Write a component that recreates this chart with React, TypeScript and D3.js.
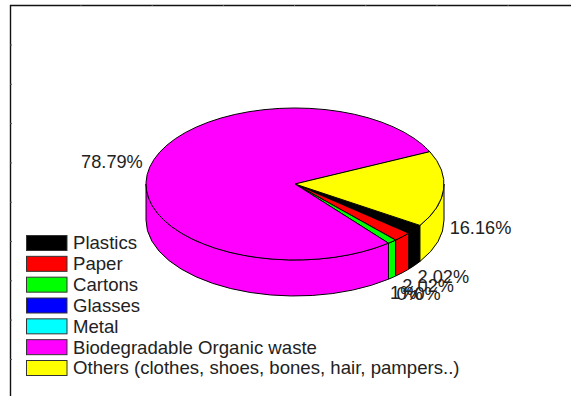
import React from "react";
import * as d3 from "d3";

const categories = [
  "Plastics",
  "Paper",
  "Cartons",
  "Glasses",
  "Metal",
  "Biodegradable Organic waste",
  "Others (clothes, shoes, bones, hair, pampers..)",
];
const shares = [2.02, 2.02, 1, 0, 0, 78.79, 16.16];
const valueLabels = ["2.02%", "2.02%", "1%", "0%", "0%", "78.79%", "16.16%"];
const colors = ["#000000", "#ff0000", "#00ff00", "#0000ff", "#00ffff", "#ff00ff", "#ffff00"];
// Nudges of each value label away from the rim of its slice
const labelNudges: [number, number][] = [
  [3, 49],
  [0, 50],
  [-2, 53],
  [8, 52],
  [26, 52],
  [-7, -4],
  [6, 40],
];

const WIDTH = 571;
const HEIGHT = 396;
const cx = 295;
const cy = 184;
const rx = 149;
const ry = 76;
const depth = 36;
const TEXT = "#222222";
const FONT = "'Liberation Sans', Arial, sans-serif";

const pie = d3
  .pie<number>()
  .sort(null)
  .startAngle((123 * Math.PI) / 180)
  .endAngle((483 * Math.PI) / 180);

// Pie angles run clockwise from 12 o'clock; rimX/rimY project them onto the ellipse.
const rimX = (a: number) => cx + rx * Math.sin(a);
const rimY = (a: number) => cy - ry * Math.cos(a);

function topPath(a0: number, a1: number) {
  const large = a1 - a0 > Math.PI ? 1 : 0;
  return `M${cx},${cy}L${rimX(a0)},${rimY(a0)}A${rx},${ry} 0 ${large} 1 ${rimX(a1)},${rimY(a1)}Z`;
}

// Outer wall of a slice, clipped to the half of the rim facing the viewer.
function wallPath(a0: number, a1: number) {
  const segments: [number, number][] = [];
  for (const shift of [0, 2 * Math.PI]) {
    const s = Math.max(a0, Math.PI / 2 + shift);
    const e = Math.min(a1, (3 * Math.PI) / 2 + shift);
    if (e > s) segments.push([s, e]);
  }
  return segments
    .map(
      ([s, e]) =>
        `M${rimX(s)},${rimY(s)}A${rx},${ry} 0 0 1 ${rimX(e)},${rimY(e)}` +
        `L${rimX(e)},${rimY(e) + depth}A${rx},${ry} 0 0 0 ${rimX(s)},${rimY(s) + depth}Z`
    )
    .join("");
}

const legendY = d3
  .scaleLinear()
  .domain([0, categories.length - 1])
  .range([243, 368]);
const leftTicks = d3.range(45, 396, 39.3);
const topTicks = d3.range(81, 571, 71.2);

export default function App() {
  const arcs = pie(shares);
  return (
    <svg
      width={WIDTH}
      height={HEIGHT}
      viewBox={`0 0 ${WIDTH} ${HEIGHT}`}
      style={{ position: "fixed", left: 0, top: 0, background: "#fff" }}
    >
      <path d={`M10.5,396V5.5H571`} fill="none" stroke="#111" strokeWidth={1.4} />
      {leftTicks.map((y) => (
        <line key={y} x1={10} x2={12} y1={y} y2={y} stroke="#555" strokeWidth={1} />
      ))}
      {topTicks.map((x) => (
        <line key={x} x1={x} x2={x} y1={5} y2={6} stroke="#666" strokeWidth={1} />
      ))}

      {arcs.map((d, i) => {
        const wall = wallPath(d.startAngle, d.endAngle);
        return wall && d.value > 0 ? (
          <path key={i} d={wall} fill={colors[i]} stroke="#000" strokeWidth={1} />
        ) : null;
      })}
      {arcs.map((d, i) =>
        d.value > 0 ? (
          <path
            key={i}
            d={topPath(d.startAngle, d.endAngle)}
            fill={colors[i]}
            stroke="#000"
            strokeWidth={1}
          />
        ) : null
      )}

      {arcs.map((d, i) => {
        const mid = (d.startAngle + d.endAngle) / 2;
        const x = rimX(mid) + labelNudges[i][0];
        const y = rimY(mid) + labelNudges[i][1];
        return (
          <text
            key={i}
            x={x}
            y={y}
            dominantBaseline="middle"
            textAnchor={Math.sin(mid) < 0 ? "end" : "start"}
            fontFamily={FONT}
            fontSize={18.2}
            fill={TEXT}
          >
            {valueLabels[i]}
          </text>
        );
      })}

      {categories.map((c, i) => (
        <g key={c}>
          <rect
            x={26.5}
            y={legendY(i) - 7.5}
            width={40.5}
            height={15}
            fill={colors[i]}
            stroke="#333"
            strokeWidth={1}
          />
          <text
            x={73}
            y={legendY(i) + 1.5}
            dominantBaseline="middle"
            fontFamily={FONT}
            fontSize={18.6}
            fill={TEXT}
          >
            {c}
          </text>
        </g>
      ))}
    </svg>
  );
}
